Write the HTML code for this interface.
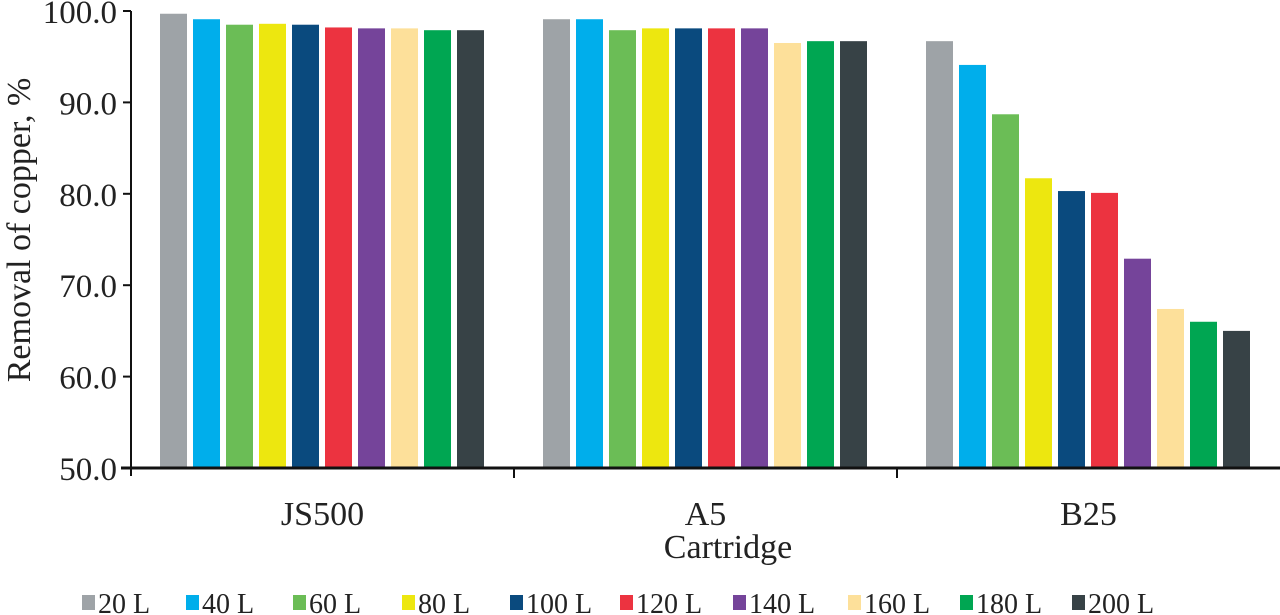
<!DOCTYPE html>
<html><head><meta charset="utf-8"><style>
html,body{margin:0;padding:0;background:#fff;}
svg{display:block;}
svg text{font-family:"Liberation Serif","Noto Serif CJK SC","DejaVu Serif",serif;}
</style></head><body>
<svg id="chart" width="1280" height="615">
</svg>
<script>
const categories = ["JS500","A5","B25"];
const seriesNames = ["20 L","40 L","60 L","80 L","100 L","120 L","140 L","160 L","180 L","200 L"];
const seriesColors = ["#9ea3a7","#00aeeb","#6bbd56","#ede70f","#0a4a7e","#ec3340","#75449a","#fde09a","#00a652","#374246"];
const valuesJS500 = [99.7,99.1,98.5,98.6,98.5,98.2,98.1,98.1,97.9,97.9];
const valuesA5 = [99.1,99.1,97.9,98.1,98.1,98.1,98.1,96.5,96.7,96.7];
const valuesB25 = [96.7,94.1,88.7,81.7,80.3,80.1,72.9,67.4,66.0,65.0];
const yTicks = [50,60,70,80,90,100];
const legendX = [82,186,293,402,510,620,733,848,960,1072];

const svg = document.getElementById('chart');
const NS = 'http://www.w3.org/2000/svg';
const FONT = '"Liberation Serif", "Noto Serif CJK SC", "DejaVu Serif", serif';
const X0 = 131, X1 = 1280, Y0 = 468, Y1 = 11, YMIN = 50, YMAX = 100;
const catW = (X1 - X0) / categories.length;
function y(v){ return Y0 - (v - YMIN) / (YMAX - YMIN) * (Y0 - Y1); }
function mk(tag, attrs, text){
  const e = document.createElementNS(NS, tag);
  for (const k in attrs) e.setAttribute(k, attrs[k]);
  if (text !== undefined) { e.textContent = text; e.setAttribute('font-family', FONT); }
  svg.appendChild(e); return e;
}
const allVals = [valuesJS500, valuesA5, valuesB25];
const step = 33, bw = 27, off = 29;
allVals.forEach((vals, ci) => {
  vals.forEach((v, si) => {
    const bx = X0 + ci * catW + off + si * step;
    const r = mk('rect', {x: bx, y: y(v), width: bw, height: Y0 - y(v), fill: seriesColors[si]});
    
    
  });
  const t = mk('text', {x: X0 + ci * catW + catW / 2, y: 525, 'font-size': 34, 'text-anchor': 'middle', fill: '#222'}, categories[ci]);
  
  
});
const ya = mk('line', {x1: X0, y1: Y1, x2: X0, y2: Y0 + 8, stroke: '#111', 'stroke-width': 2});


const xa = mk('line', {x1: X0 - 10, y1: Y0, x2: X1, y2: Y0, stroke: '#111', 'stroke-width': 3});


for (let i = 1; i < categories.length; i++) {
  const tk = mk('line', {x1: X0 + i * catW, y1: Y0, x2: X0 + i * catW, y2: Y0 + 10, stroke: '#111', 'stroke-width': 2});
  
  
}
yTicks.forEach(v => {
  const tk = mk('line', {x1: X0 - 8, y1: y(v), x2: X0, y2: y(v), stroke: '#111', 'stroke-width': 2});
  
  
  const t = mk('text', {x: 117, y: y(v) + 12, 'font-size': 33, 'text-anchor': 'end', fill: '#222'}, v.toFixed(1));
  
  
});
const yt = mk('text', {x: 0, y: 0, 'font-size': 34, 'text-anchor': 'middle', fill: '#222', transform: 'translate(30,230) rotate(-90)'}, 'Removal of copper, %');


const xt = mk('text', {x: 728, y: 558, 'font-size': 34, 'text-anchor': 'middle', fill: '#222'}, 'Cartridge');


seriesNames.forEach((n, i) => {
  const s = mk('rect', {x: legendX[i], y: 595, width: 13, height: 15, fill: seriesColors[i]});
  
  
  const t = mk('text', {x: legendX[i] + 16, y: 613, 'font-size': 28, fill: '#222'}, n);
  
  
});
</script>
</body></html>
